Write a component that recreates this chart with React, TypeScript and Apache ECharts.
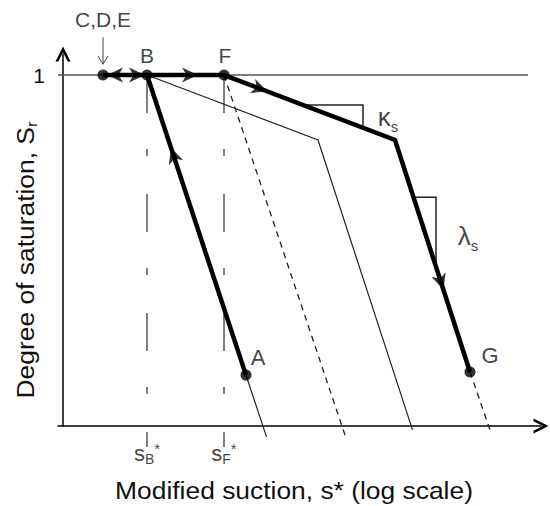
import React, { useEffect, useRef } from 'react';
import * as echarts from 'echarts';

const FONT = '"Liberation Sans", Arial, Helvetica, sans-serif';

// Schematic: x = modified suction s* (log-scale units, arbitrary), y = degree of saturation Sr
const saturationLine: number[][] = [[-0.1, 1], [9.3, 1]];
const mainPath: number[][] = [[0.8, 1], [1.68, 1], [3.22, 1], [6.64, 0.815], [8.14, 0.154]]; // C,D,E - B - F - knee - G
const wettingPath: number[][] = [[1.68, 1], [3.66, 0.145]]; // B - A
const thinCurve: number[][] = [[1.68, 1], [5.1, 0.815], [6.99, -0.011]];
const thinExtensionA: number[][] = [[3.66, 0.145], [4.07, -0.031]];
const dashedFromF: number[][] = [[3.22, 1], [5.64, -0.026]];
const dashedFromG: number[][] = [[8.14, 0.154], [8.54, -0.011]];
const kappaTriangle: number[][] = [[4.84, 0.915], [6.0, 0.915], [6.0, 0.852]];
const lambdaTriangle: number[][] = [[7.0, 0.652], [7.46, 0.652], [7.46, 0.464]];
const sStarValues: number[] = [1.68, 3.22];
const sStarNames: string[] = ['B', 'F'];
const sStarBottom = -0.06;
const dotPoints: number[][] = [[0.8, 1], [1.68, 1], [3.22, 1], [3.66, 0.145], [8.14, 0.154]];
// arrow heads: x, y, direction dx, dy (data units)
const arrowHeads: number[][] = [
  [1.04, 1, -1, 0],
  [1.48, 1, 1, 0],
  [2.54, 1, 1, 0],
  [3.94, 0.961, 3.42, -0.185],
  [2.21, 0.772, -1.98, 0.855],
  [7.56, 0.41, 1.5, -0.661],
];
const pointerShaft: number[][] = [[0.8, 1.108], [0.8, 1.031]];
const pointerHead: number[][] = [[0.7, 1.054], [0.8, 1.031], [0.9, 1.054]];
const pointLabels: { text: string; x: number; y: number; size: number }[] = [
  { text: 'C,D,E', x: 0.8, y: 1.157, size: 21 },
  { text: 'B', x: 1.68, y: 1.057, size: 21 },
  { text: 'F', x: 3.24, y: 1.057, size: 21 },
  { text: 'A', x: 3.9, y: 0.194, size: 22 },
  { text: 'G', x: 8.54, y: 0.202, size: 22 },
];
const slopeLabels: { text: string; x: number; y: number }[] = [
  { text: '{g|κ}{sub|s}', x: 6.5, y: 0.88 },
  { text: '{g|λ}{sub|s}', x: 8.1, y: 0.54 },
];
const xTitle = 'Modified suction, s* (log scale)';
const yTitle = 'Degree of saturation, S{sub|r}';

const PX_PER_X = 50;
const PX_PER_Y = 351;

const rich = {
  g: { fontSize: 26, fontFamily: FONT, color: '#111' },
  m: { fontSize: 22, fontFamily: FONT, color: '#111' },
  sub: { fontSize: 15, fontFamily: FONT, color: '#111', padding: [18, 0, 0, 0] },
  sup: { fontSize: 15, fontFamily: FONT, color: '#111', padding: [0, 0, 10, 0] },
};

const lineSeries = (data: number[][], color: string, width: number, type: any = 'solid', z = 2) => ({
  type: 'line',
  data,
  symbol: 'none',
  clip: false,
  silent: true,
  z,
  lineStyle: { color, width, type, cap: 'butt', join: 'miter' },
});

const chevron = 'path://M0,16 L8,0 L16,16 L13,16 L8,6 L3,16 Z';
const notchedArrow = 'path://M8,0 L16,18 L8,13 L0,18 Z';

export default function App() {
  const ref = useRef<HTMLDivElement>(null);
  useEffect(() => {
    const chart = echarts.init(ref.current!, null, { renderer: 'svg' });
    const option: any = {
      animation: false,
      grid: { left: 58, top: 54, width: 483, height: 372, containLabel: false, outerBoundsMode: 'none' },
      xAxis: {
        type: 'value',
        min: -0.1,
        max: 9.56,
        axisLine: {
          show: true,
          onZero: true,
          symbol: ['none', chevron],
          symbolSize: [16, 15],
          lineStyle: { color: '#000', width: 1.5 },
        },
        axisTick: { show: false },
        axisLabel: { show: false },
        splitLine: { show: false },
      },
      yAxis: {
        type: 'value',
        min: 0,
        max: 1.06,
        interval: 1,
        axisLine: {
          show: true,
          onZero: true,
          symbol: ['none', chevron],
          symbolSize: [16, 15],
          lineStyle: { color: '#000', width: 1.5 },
        },
        axisTick: { show: false },
        splitLine: { show: false },
        axisLabel: {
          formatter: (v: number) => (v === 1 ? '1' : ''),
          fontSize: 21,
          fontFamily: FONT,
          color: '#111',
          margin: 13,
          padding: [6, 0, 0, 0],
        },
      },
      graphic: [
        {
          type: 'text',
          x: 294,
          y: 490,
          scaleX: 1.1,
          silent: true,
          style: {
            text: xTitle,
            fontSize: 24,
            fontFamily: FONT,
            fill: '#111',
            align: 'center',
            verticalAlign: 'middle',
          },
        },
        {
          type: 'text',
          x: 25,
          y: 260,
          rotation: Math.PI / 2,
          scaleX: 1.1,
          silent: true,
          style: {
            text: yTitle,
            fontSize: 24,
            fontFamily: FONT,
            fill: '#111',
            align: 'center',
            verticalAlign: 'middle',
            rich: { sub: { fontSize: 15, fontFamily: FONT, fill: '#111', padding: [14, 0, 0, 0] } },
          },
        },
      ],
      series: [
        lineSeries(saturationLine, '#555', 1.5),
        ...sStarValues.map((v) =>
          lineSeries([[v, 1], [v, sStarBottom]], '#555', 1.5, [38, 36, 7, 38])
        ),
        lineSeries(thinCurve, '#222', 1.2),
        lineSeries(thinExtensionA, '#222', 1.2),
        lineSeries(dashedFromF, '#222', 1.3, [6, 5]),
        lineSeries(dashedFromG, '#222', 1.3, [6, 5]),
        lineSeries(kappaTriangle, '#222', 1.5),
        lineSeries(lambdaTriangle, '#222', 1.5),
        lineSeries(pointerShaft, '#444', 1),
        lineSeries(pointerHead, '#444', 1),
        lineSeries(mainPath, '#000', 4.5, 'solid', 3),
        lineSeries(wettingPath, '#000', 4.5, 'solid', 3),
        {
          type: 'scatter',
          clip: false,
          silent: true,
          z: 5,
          symbol: 'circle',
          symbolSize: 11,
          itemStyle: { color: '#000' },
          data: dotPoints,
        },
        {
          type: 'scatter',
          clip: false,
          silent: true,
          z: 5,
          symbol: notchedArrow,
          symbolSize: [15, 16],
          itemStyle: { color: '#000' },
          data: arrowHeads.map(([x, y, dx, dy]) => ({
            value: [x, y],
            symbolRotate: (Math.atan2(dy * PX_PER_Y, dx * PX_PER_X) * 180) / Math.PI - 90,
          })),
        },
        {
          type: 'scatter',
          clip: false,
          silent: true,
          z: 6,
          symbolSize: 1,
          itemStyle: { color: 'rgba(0,0,0,0)' },
          data: [
            ...pointLabels.map((p) => ({
              value: [p.x, p.y],
              label: {
                show: true,
                position: 'inside',
                formatter: p.text,
                fontSize: p.size,
                fontFamily: FONT,
                color: '#111',
              },
            })),
            ...slopeLabels.map((p) => ({
              value: [p.x, p.y],
              label: { show: true, position: 'inside', formatter: p.text, rich },
            })),
            ...sStarValues.map((v, i) => ({
              value: [v, -0.077],
              label: {
                show: true,
                position: 'inside',
                formatter: `{m|s}{sub|${sStarNames[i]}}{sup|*}`,
                rich: {
                  ...rich,
                  sub: { fontSize: 14, fontFamily: FONT, color: '#111', padding: [12, 0, 0, 0] },
                },
              },
            })),
          ],
        },
      ],
    };
    chart.setOption(option);
    return () => chart.dispose();
  }, []);
  return <div ref={ref} style={{ position: 'absolute', left: 0, top: 0, width: 550, height: 506 }} />;
}
